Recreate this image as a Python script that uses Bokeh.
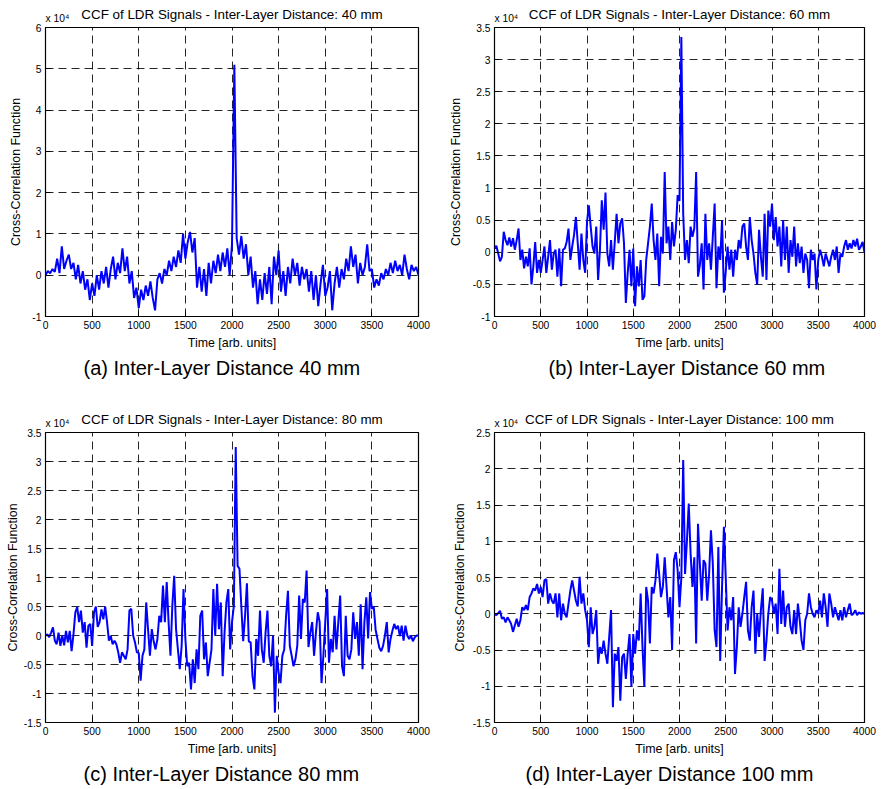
from bokeh.plotting import figure
from bokeh.layouts import gridplot
from bokeh.models import Range1d, FixedTicker, LinearAxis, Title
from bokeh.embed import file_html
from bokeh.resources import INLINE

FONT = "Liberation Sans"

# time samples [arb. units]
t_40 = list(range(0, 4001, 25))
t_60 = list(range(0, 4001, 20))
t_80 = list(range(0, 4001, 20))
t_100 = list(range(0, 4001, 20))

# CCF values, in units of 10^4
ccf_40 = [0.0, 0.1, 0.05, 0.15, 0.08, 0.4, 0.05, 0.7, 0.15, 0.35, 0.5, 0.15, 0.3, -0.1, 0.25, -0.2, 0.1, -0.35, -0.1, -0.6, -0.2,
          -0.5, 0.0, -0.35, 0.1, -0.2, 0.2, -0.3, 0.15, 0.45, -0.1, 0.3, 0.05, 0.65, 0.1, 0.45, -0.2, 0.1, -0.55, -0.3, -0.8,
          -0.35, -0.6, -0.25, -0.5, -0.15, -0.55, -0.85, -0.1, 0.05, -0.2, 0.15, 0.0, 0.35, 0.1, 0.45, 0.2, 0.6, 0.3, 1.0, 0.4,
          0.8, 1.05, 0.55, 0.9, -0.3, 0.2, -0.4, 0.15, -0.5, 0.3, -0.2, 0.35, 0.05, 0.5, 0.1, 0.55, 0.2, 0.65, 0.0, 0.75,
          5.1, 0.9, 0.5, 0.95, 0.4, 0.75, 0.0, 0.45, -0.3, 0.1, -0.7, -0.1, -0.6, 0.05, -0.45, 0.2, -0.7, 0.45, 0.0, 0.6,
          -0.4, 0.1, -0.5, 0.2, -0.2, 0.4, 0.0, 0.3, -0.25, 0.2, -0.1, 0.15, -0.4, 0.1, -0.6, 0.0, -0.75, -0.2, 0.25, -0.5,
          -0.3, 0.1, -0.85, -0.2, 0.2, -0.3, 0.15, -0.1, 0.4, 0.1, 0.7, 0.2, 0.5, -0.2, 0.3, 0.0, 0.2, 0.75, 0.1, 0.15,
          -0.3, -0.1, -0.25, 0.05, -0.1, 0.15, 0.0, 0.3, 0.05, 0.35, 0.1, 0.25, 0.0, 0.5, 0.15, -0.1, 0.25, 0.1, 0.2, 0.0]

ccf_60 = [0.06, 0.10, -0.02, -0.14, -0.07, 0.32, 0.19, 0.11, 0.23, 0.09, 0.22, 0.04, 0.19, 0.37, -0.12, 0.04, -0.25, -0.07, -0.22, 0.06, -0.5, -0.22, 0.16, -0.32, -0.12,
          -0.32, -0.12, 0.09, -0.32, -0.07, 0.19, -0.27, -0.02, 0.04, -0.38, 0.06, -0.53, 0.04, 0.06, 0.16, 0.37, -0.12, 0.09, 0.27, 0.55, 0.14, -0.27, 0.29, -0.12, -0.32,
          0.47, 0.73, 0.40, 0.09, -0.02, 0.40, -0.43, 0.04, 0.81, 0.35, 0.93, -0.02, -0.22, 0.19, -0.27, 0.16, 0.60, 0.14, 0.45, 0.53, 0.14, -0.79, -0.32, 0.04, -0.53,
          0.06, -0.84, -0.22, -0.53, -0.12, -0.74, -0.69, -0.12, 0.14, 0.40, 0.76, 0.19, -0.12, 0.29, -0.53, 0.24, -0.02, 1.25, 0.14, 0.40, -0.12, 0.47, 0.09, 0.35, 0.89,
          0.8, 3.35, 0.6, -0.12, 0.19, -0.17, 0.40, 0.24, 0.37, 1.25, -0.38, -0.2, 0.14, -0.58, 0.60, -0.12, 0.14, -0.27, 0.24, 0.76, -0.56, 0.09, -0.12, 0.5, -0.63,
          -0.3, 0.09, -0.27, 0.04, -0.38, 0.04, -0.12, 0.19, 0.06, 0.40, 0.45, 0.09, -0.12, 0.55, 0.19, -0.02, -0.32, -0.5, 0.35, -0.07, -0.38, 0.60, -0.43, 0.65, 0.40,
          0.76, 0.19, 0.55, 0.09, 0.40, -0.22, 0.50, -0.12, 0.40, -0.32, 0.19, -0.07, 0.40, -0.22, 0.14, -0.17, 0.09, -0.32, -0.02, -0.12, -0.56, 0.04, -0.12, -0.02, -0.58,
          -0.12, 0.04, -0.07, -0.22, -0.02, -0.12, -0.22, -0.07, 0.04, -0.12, 0.09, -0.32, -0.02, -0.07, 0.09, 0.19, 0.04, 0.14, 0.06, 0.19, 0.09, 0.21, 0.04, 0.09, 0.16, 0.0]

ccf_80 = [0.0, 0.02, -0.03, 0.05, 0.14, -0.09, -0.15, 0.05, -0.18, 0.0, -0.17, 0.08, -0.12, 0.08, -0.27, 0.02, 0.40, 0.49, 0.23, 0.43, 0.05, 0.23, -0.21, 0.17, 0.20,
          -0.18, 0.4, 0.5, 0.15, 0.23, 0.45, 0.28, 0.5, 0.23, -0.09, -0.01, -0.15, -0.09, -0.15, -0.29, -0.47, -0.29, -0.35, -0.41, -0.24, 0.43, 0.46, 0.0, -0.12, -0.29,
          -0.3, -0.78, -0.35, -0.24, 0.57, 0.1, -0.35, 0.11, -0.1, -0.24, -0.06, 0.34, 0.23, 0.86, 0.23, 0.92, 0.23, -0.35, 0.51, 1.03, 0.11, -0.24, -0.58, -0.18, 0.8,
          -0.06, -0.53, -0.47, -0.93, -0.41, -0.82, -0.24, -0.58, 0.34, 0.43, -0.41, -0.12, -0.70, -0.47, -0.24, 0.8, 0.0, 0.89, 0.11, 0.57, -0.70, 0.05, 0.57, 0.80, -0.24,
          0.23, 0.51, 3.25, 1.2, 1.15, 0.5, -0.1, 0.34, 0.9, -0.1, -0.12, -0.7, -0.93, -0.06, -0.35, 0.43, -0.24, -0.47, 0.05, 0.43, -0.35, -0.53, 0.0, -1.33, -0.35,
          -0.64, -0.82, -0.35, -0.24, 0.34, 0.77, -0.18, -0.35, -0.53, -0.41, -0.18, 0.69, -0.06, 0.63, 0.57, 1.12, -0.2, 0.05, 0.23, -0.35, 0.05, 0.40, 0.23, -0.82, -0.35,
          0.23, 0.8, -0.47, -0.06, -0.29, 0.34, -0.24, 0.23, 0.69, -0.53, -0.70, 0.34, -0.35, -0.41, -0.24, 0.40, -0.06, 0.23, -0.35, 0.54, -0.58, 0.23, 0.66, -0.05, 0.75,
          0.46, 0.5, 0.1, -0.06, -0.21, -0.27, -0.18, 0.0, 0.23, -0.29, -0.06, 0.08, 0.2, 0.11, 0.17, -0.01, 0.17, -0.09, 0.17, 0.0, -0.06, 0.0, -0.1, -0.03, 0.0, 0.0]

ccf_100 = [0.0, -0.02, 0.01, 0.04, -0.07, -0.05, -0.12, -0.05, -0.09, -0.14, -0.25, -0.16, -0.07, -0.18, -0.09, 0.09, 0.05, 0.12, 0.05, 0.23, 0.28, 0.35, 0.32, 0.41, 0.28,
           0.37, 0.23, 0.46, 0.48, 0.14, 0.28, 0.18, 0.14, 0.28, -0.05, 0.28, -0.09, 0.14, 0.0, -0.05, 0.14, 0.32, 0.46, 0.32, 0.18, 0.1, 0.51, 0.14, 0.28, 0.05,
           -0.09, -0.46, 0.09, -0.28, -0.18, 0.05, -0.69, -0.46, -0.55, -0.37, -0.55, -0.69, -0.32, 0.05, -1.29, -0.55, -0.65, -0.46, -1.2, -0.6, -0.55, -0.9, -0.55, -0.28, -1.01,
           -0.28, -0.55, -0.23, -0.37, 0.28, -0.46, -1.01, 0.37, 0.18, -0.41, 0.37, 0.28, 0.46, 0.83, 0.55, 0.23, 0.37, 0.78, 0.37, -0.05, 0.23, -0.5, 0.74, 0.85, 0.6,
           0.09, 0.5, 2.12, 0.55, 1.0, 1.52, 0.83, 0.37, 0.78, -0.41, 1.24, 0.69, 0.18, 0.74, 0.69, 0.18, 0.55, 1.15, 0.69, -0.23, -0.46, 0.92, -0.65, 0.37, 1.2,
           0.5, -0.23, 0.09, -0.09, 0.23, -0.83, -0.46, 0.09, -0.18, 0.0, 0.23, 0.44, -0.23, -0.37, 0.09, 0.32, -0.55, 0.0, -0.32, 0.05, 0.35, -0.65, -0.37, 0.0, 0.23,
           0.18, 0.0, 0.14, -0.28, 0.62, -0.14, 0.32, -0.18, 0.09, 0.14, -0.18, -0.28, 0.05, -0.28, 0.14, -0.09, -0.37, -0.5, -0.09, 0.0, 0.28, 0.09, 0.0, -0.05, 0.05,
           0.0, 0.18, -0.05, 0.28, 0.09, -0.18, 0.28, 0.14, -0.05, 0.09, 0.0, -0.09, 0.05, -0.09, 0.09, -0.05, 0.05, 0.14, -0.02, 0.0, 0.05, -0.02, 0.02, 0.0, 0.01, 0.0]

x_ticks = [0, 500, 1000, 1500, 2000, 2500, 3000, 3500, 4000]
y_ticks_40 = [-1, 0, 1, 2, 3, 4, 5, 6]
y_ticks_60 = [-1, -0.5, 0, 0.5, 1, 1.5, 2, 2.5, 3, 3.5]
y_ticks_80 = [-1.5, -1, -0.5, 0, 0.5, 1, 1.5, 2, 2.5, 3, 3.5]
y_ticks_100 = [-1.5, -1, -0.5, 0, 0.5, 1, 1.5, 2, 2.5]
distances = [40, 60, 80, 100]
letters = ["a", "b", "c", "d"]
exponent_text = "x 10\u2074"


def tick_key(v):
    return int(v) if float(v).is_integer() else v


def make_panel(t, vals, dist, letter, y_ticks, w, h, bl, br, bt, bb, lab_standoff, cap_offset):
    assert len(t) == len(vals)
    p = figure(width=w, height=h, x_range=Range1d(0, 4000),
               y_range=Range1d(y_ticks[0], y_ticks[-1]),
               output_backend="svg", toolbar_location=None,
               min_border_left=bl, min_border_right=br,
               min_border_top=bt, min_border_bottom=bb,
               background_fill_color="white", border_fill_color="white")
    p.title.text = ""

    p.outline_line_color = "black"
    p.outline_line_width = 1.2
    p.outline_line_alpha = 1.0

    p.grid.grid_line_color = "black"
    p.grid.grid_line_dash = "8 5"
    p.grid.grid_line_width = 1
    p.grid.grid_line_alpha = 0.85

    for ax in (p.xaxis[0], p.yaxis[0]):
        ax.axis_line_color = None
        ax.major_tick_in = 5
        ax.major_tick_out = 0
        ax.major_tick_line_color = "black"
        ax.minor_tick_line_color = None
        ax.major_label_text_font = FONT
        ax.major_label_text_font_size = "10.3px"
        ax.major_label_text_color = "black"
        ax.axis_label_text_font = FONT
        ax.axis_label_text_font_size = "12.4px"
        ax.axis_label_text_font_style = "normal"
        ax.axis_label_text_color = "black"
        ax.major_label_standoff = 4

    p.xaxis.ticker = FixedTicker(ticks=x_ticks)
    p.xaxis.axis_label = "Time [arb. units]"
    p.xaxis.axis_label_standoff = 4
    p.yaxis.ticker = FixedTicker(ticks=y_ticks)
    p.yaxis.major_label_overrides = {tick_key(v): str(tick_key(v)) for v in y_ticks}
    p.yaxis.axis_label = "Cross-Correlation Function"
    p.yaxis.axis_label_standoff = lab_standoff

    # top guide: carries the chart title and the "x 10^4" scale factor
    top = LinearAxis(ticker=FixedTicker(ticks=[128]),
                     major_label_overrides={128: exponent_text},
                     axis_label=f"CCF of LDR Signals - Inter-Layer Distance: {dist} mm",
                     axis_line_color=None, major_tick_line_color=None,
                     minor_tick_line_color=None, major_tick_in=0, major_tick_out=0,
                     major_label_standoff=4, axis_label_standoff=-12,
                     major_label_text_font=FONT, major_label_text_font_size="10.3px",
                     major_label_text_color="black",
                     axis_label_text_font=FONT, axis_label_text_font_size="13.4px",
                     axis_label_text_font_style="normal", axis_label_text_color="black")
    p.add_layout(top, "above")

    p.line(t, vals, line_color="#0000ff", line_width=2)

    cap = Title(text=f"({letter}) Inter-Layer Distance {dist} mm", align="left",
                text_font=FONT, text_font_size="20px", text_font_style="normal",
                text_color="black", standoff=4, offset=cap_offset)
    p.add_layout(cap, "below")
    return p


pa = make_panel(t_40, ccf_40, distances[0], letters[0], y_ticks_40, 440, 390, 44, 22, 27, 74, 6, 38)
pb = make_panel(t_60, ccf_60, distances[1], letters[1], y_ticks_60, 441, 390, 54, 11, 27, 74, 7, 54)
pc = make_panel(t_80, ccf_80, distances[2], letters[2], y_ticks_80, 440, 399, 45, 21, 42, 67, 1, 38)
pd = make_panel(t_100, ccf_100, distances[3], letters[3], y_ticks_100, 441, 399, 51, 17, 42, 67, 3, 31)

grid = gridplot([[pa, pb], [pc, pd]], toolbar_location=None)

open("out.html", "w").write(file_html(grid, INLINE))
